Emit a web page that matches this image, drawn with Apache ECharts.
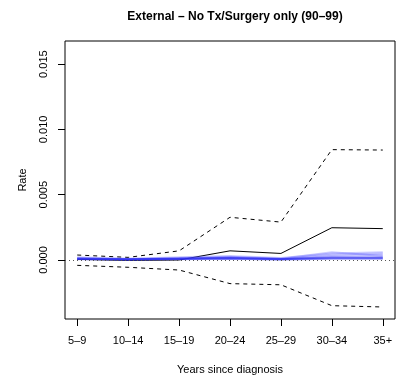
<!DOCTYPE html>
<html>
<head>
<meta charset="utf-8">
<script src="https://cdn.jsdelivr.net/npm/echarts@6/dist/echarts.min.js"></script>
<style>
  html, body { margin: 0; padding: 0; background: #fff; }
  #chart { width: 396px; height: 381px; }
</style>
</head>
<body>
<div id="chart"></div>
<script>
// periods since diagnosis
const categories = ['5–9', '10–14', '15–19', '20–24', '25–29', '30–34', '35+'];
const yTicks = [0, 0.005, 0.010, 0.015];

// observed rate and its bounds
const rate = [0.00005, -0.00004, 0.0, 0.0007, 0.0005, 0.00247, 0.0024];
const upper = [0.00038, 0.0002, 0.0007, 0.00327, 0.0029, 0.00845, 0.00842];
const lower = [-0.00041, -0.00056, -0.00077, -0.00181, -0.0019, -0.0035, -0.0036];

// simulated rates (blue bundle)
const sim1 = [0.0001, 0.00005, 0.0001, 0.0002, 0.0001, 0.0006, 0.0003];
const sim2 = [0.0002, 0.0001, 0.0002, 0.0003, 0.00015, 0.0005, 0.0006];
const sim3 = [0.00015, 0.00008, 0.00015, 0.00025, 0.0001, 0.0004, 0.0005];
const sim4 = [0.00005, 0.0, 0.00005, 0.0001, 0.00005, 0.0003, 0.0004];
const sim5 = [0.0001, 0.00005, 0.0001, 0.00015, 0.00005, 0.0002, 0.0002];
const sim6 = [0.00008, 0.00003, 0.00008, 0.0001, 0.00003, 0.0001, 0.0001];
const sim7 = [0.00012, 0.00006, 0.00012, 0.00018, 0.00008, 0.00015, 0.00015];
const sims = [sim1, sim2, sim3, sim4, sim5, sim6, sim7];

const font = 'Liberation Sans, Arial, Helvetica, sans-serif';

function pairs(arr) {
  return arr.map((v, i) => [i + 1, v]);
}

const chart = echarts.init(document.getElementById('chart'));

const series = [];

series.push({
  type: 'line',
  data: pairs(rate),
  symbol: 'none',
  lineStyle: { color: '#000', width: 1 },
  markLine: {
    silent: true,
    symbol: 'none',
    label: { show: false },
    lineStyle: { color: '#555', type: [1, 3], width: 1 },
    data: [{ yAxis: 0 }],
  },
  z: 2,
});
series.push({
  type: 'line',
  data: pairs(upper),
  symbol: 'none',
  lineStyle: { color: '#000', width: 1, type: [4, 4] },
  z: 2,
});
series.push({
  type: 'line',
  data: pairs(lower),
  symbol: 'none',
  lineStyle: { color: '#000', width: 1, type: [4, 4] },
  z: 2,
});
sims.forEach((s, i) => {
  series.push({
    type: 'line',
    data: pairs(s),
    symbol: 'none',
    lineStyle: { color: i >= 4 ? 'rgba(40,40,240,0.45)' : 'rgba(90,90,255,0.3)', width: 2 },
    z: 3,
  });
});

const option = {
  animation: false,
  backgroundColor: '#fff',
  title: {
    text: 'External – No Tx/Surgery only (90–99)',
    left: 230,
    top: 6,
    textAlign: 'center',
    textStyle: { fontFamily: font, fontSize: 12, fontWeight: 'bold', color: '#000' },
  },
  grid: {
    left: 65,
    right: 1,
    top: 41,
    bottom: 62,
    show: true,
    borderColor: '#000',
    borderWidth: 1,
  },
  xAxis: {
    type: 'value',
    min: 0.76,
    max: 7.24,
    name: 'Years since diagnosis',
    nameLocation: 'middle',
    nameGap: 45,
    nameTextStyle: { fontFamily: font, fontSize: 11, color: '#000' },
    axisLine: { show: false, onZero: false },
    splitLine: { show: false },
    axisTick: {
      show: true,
      inside: false,
      length: 7,
      lineStyle: { color: '#000' },
      customValues: [1, 2, 3, 4, 5, 6, 7],
    },
    axisLabel: {
      fontFamily: font,
      fontSize: 11,
      color: '#000',
      margin: 16,
      customValues: [1, 2, 3, 4, 5, 6, 7],
      formatter: (v) => categories[Math.round(v) - 1] || '',
    },
  },
  yAxis: {
    type: 'value',
    min: -0.00452,
    max: 0.01677,
    name: 'Rate',
    nameLocation: 'middle',
    nameGap: 37,
    nameRotate: 90,
    nameTextStyle: { fontFamily: font, fontSize: 11, color: '#000' },
    axisLine: { show: false, onZero: false },
    splitLine: { show: false },
    axisTick: {
      show: true,
      inside: false,
      length: 7,
      lineStyle: { color: '#000' },
      customValues: yTicks,
    },
    axisLabel: {
      fontFamily: font,
      fontSize: 11,
      color: '#000',
      rotate: 90,
      margin: 16,
      customValues: yTicks,
      formatter: (v) => v.toFixed(3),
    },
  },
  series: series,
};

chart.setOption(option);
</script>
</body>
</html>
